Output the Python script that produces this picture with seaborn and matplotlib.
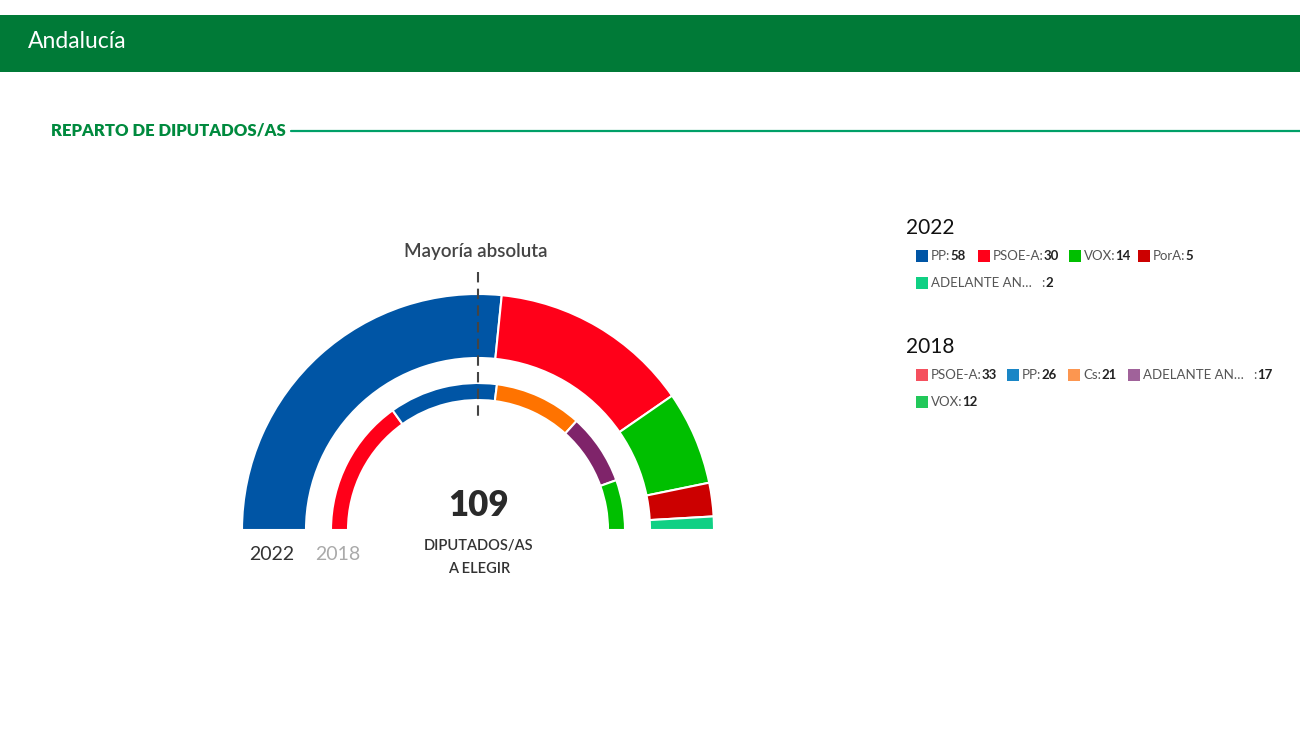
import matplotlib
matplotlib.use("Agg")
import matplotlib.pyplot as plt
import seaborn as sns
from matplotlib.patches import Wedge, Rectangle

# data
total_seats = 109
parties_2022 = ["PP", "PSOE-A", "VOX", "PorA", "ADELANTE AN…   "]
seats_2022 = [58, 30, 14, 5, 2]
colors_2022 = ["#0055a5", "#ff0019", "#00bf00", "#cc0000", "#10d084"]

parties_2018 = ["PSOE-A", "PP", "Cs", "ADELANTE AN…   ", "VOX"]
seats_2018 = [33, 26, 21, 17, 12]
colors_2018 = ["#ff0019", "#0055a5", "#ff7300", "#7f246a", "#00bf00"]
legend_colors_2018 = ["#f5505e", "#1a86c6", "#fc9650", "#a0629a", "#22c85a"]

sns.set_theme(style="white")
plt.rcParams['font.family'] = ['Lato', 'DejaVu Sans']

W, H = 1300, 731
fig = plt.figure(figsize=(13, 7.31), dpi=100)
ax = fig.add_axes([0, 0, 1, 1])
ax.set_xlim(0, W)
ax.set_ylim(0, H)
ax.set_aspect("equal")
ax.axis("off")
renderer = fig.canvas.get_renderer()


def Y(py):
    return H - py


# header band
ax.add_patch(Rectangle((0, Y(72)), W, 57, color="#007a37", lw=0))
ax.text(28, Y(42), "Andalucía", color="white", fontsize=16.5, va="center")

# section title
title = ax.text(51, Y(131), "REPARTO DE DIPUTADOS/AS", color="#008a3e",
                fontsize=12, fontweight="heavy", va="center")
x_end = ax.transData.inverted().transform(
    (title.get_window_extent(renderer).x1, 0))[0]
ax.plot([x_end + 5, W], [Y(131), Y(131)], color="#00a068", lw=1.6)

# hemicycle
cx, cy = 478, Y(530)


def draw_ring(values, colors, r_out, r_in):
    start = 0
    for v, c in zip(values, colors):
        t2 = 180 - start / total_seats * 180
        t1 = 180 - (start + v) / total_seats * 180
        ax.add_patch(Wedge((cx, cy), r_out, t1, t2, width=r_out - r_in,
                           facecolor=c, edgecolor="white", lw=1.5))
        start += v


draw_ring(seats_2022, colors_2022, 236, 172)
draw_ring(seats_2018, colors_2018, 147, 130)

ax.plot([478, 478], [Y(272), Y(422)], color="#444444", lw=1.5, ls=(0, (5, 3)))
ax.text(476, Y(252), "Mayoría absoluta", color="#444444", fontsize=13.5,
        fontweight="semibold", ha="center", va="center")

ax.text(479, Y(505), str(total_seats), color="#2a2a2a", fontsize=25,
        fontweight="heavy", ha="center", va="center")
ax.text(479, Y(546), "DIPUTADOS/AS", color="#333333", fontsize=10.5,
        fontweight="semibold", ha="center", va="center")
ax.text(479, Y(569), "A ELEGIR", color="#333333", fontsize=10.5,
        fontweight="semibold", ha="center", va="center")
ax.text(272, Y(555), "2022", color="#333333", fontsize=14, ha="center", va="center")
ax.text(338, Y(555), "2018", color="#aaaaaa", fontsize=14, ha="center", va="center")


# legends
def draw_legend(year, y_title, names, values, colors, xs_rows):
    ax.text(906, Y(y_title), year, color="#111111", fontsize=15, va="center")
    i = 0
    for row, xs in enumerate(xs_rows):
        yy = Y(y_title + 28 + row * 27)
        for x in xs:
            ax.add_patch(Rectangle((x, yy - 6), 12, 12, color=colors[i], lw=0))
            t = ax.text(x + 15, yy, names[i] + ":", color="#555555", fontsize=9.5,
                        va="center")
            bb = t.get_window_extent(renderer)
            ax.text(bb.x1, yy, str(values[i]), color="#222222", fontsize=9.5,
                    fontweight="bold", va="center")
            i += 1


draw_legend("2022", 228, parties_2022, seats_2022, colors_2022,
            [[916, 978, 1069, 1138], [916]])
draw_legend("2018", 347, parties_2018, seats_2018, legend_colors_2018,
            [[916, 1007, 1068, 1128], [916]])

fig.savefig("out.png", dpi=100, facecolor="white")
